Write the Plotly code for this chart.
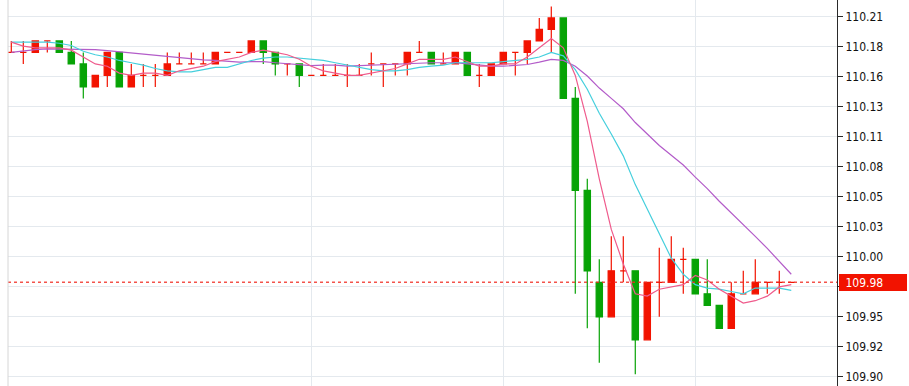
import plotly.graph_objects as go

# ---- data ----
opens = [110.18, 110.18, 110.18, 110.19, 110.19, 110.18, 110.17, 110.15, 110.16, 110.18,
         110.15, 110.16, 110.16, 110.16, 110.17, 110.17, 110.17, 110.17, 110.18, 110.18,
         110.18, 110.19, 110.18, 110.17, 110.17, 110.16, 110.16, 110.16, 110.16, 110.16,
         110.17, 110.17, 110.17, 110.17, 110.18, 110.18, 110.17, 110.17, 110.18, 110.16,
         110.16, 110.17, 110.18, 110.18, 110.19, 110.20, 110.21, 110.14, 110.06, 109.98,
         109.95, 109.99, 109.99, 109.93, 109.98, 109.98, 110.00, 110.00, 109.97, 109.96,
         109.94, 109.97, 109.97, 109.98, 109.98, 109.98]
highs = [110.19, 110.19, 110.19, 110.19, 110.19, 110.19, 110.18, 110.16, 110.18, 110.18,
         110.17, 110.17, 110.17, 110.18, 110.18, 110.18, 110.18, 110.18, 110.18, 110.18,
         110.19, 110.19, 110.18, 110.17, 110.17, 110.16, 110.17, 110.17, 110.17, 110.17,
         110.18, 110.17, 110.17, 110.18, 110.19, 110.18, 110.18, 110.18, 110.18, 110.17,
         110.17, 110.18, 110.18, 110.19, 110.21, 110.22, 110.21, 110.15, 110.07, 110.00,
         110.02, 110.02, 109.99, 109.98, 110.01, 110.02, 110.01, 110.00, 110.00, 109.96,
         109.98, 109.99, 110.00, 109.98, 109.99, 109.98]
lows = [110.18, 110.17, 110.18, 110.18, 110.18, 110.17, 110.14, 110.15, 110.15, 110.15,
        110.15, 110.15, 110.15, 110.16, 110.17, 110.17, 110.17, 110.17, 110.18, 110.18,
        110.18, 110.17, 110.16, 110.16, 110.15, 110.16, 110.16, 110.16, 110.15, 110.16,
        110.16, 110.15, 110.16, 110.16, 110.18, 110.17, 110.17, 110.17, 110.16, 110.15,
        110.16, 110.17, 110.16, 110.17, 110.19, 110.18, 110.14, 109.97, 109.94, 109.91,
        109.95, 109.98, 109.90, 109.93, 109.95, 109.98, 109.97, 109.97, 109.96, 109.94,
        109.94, 109.97, 109.97, 109.97, 109.97, 109.98]
closes = [110.18, 110.18, 110.19, 110.19, 110.18, 110.17, 110.15, 110.16, 110.18, 110.15,
          110.16, 110.16, 110.16, 110.17, 110.17, 110.17, 110.17, 110.18, 110.18, 110.18,
          110.19, 110.18, 110.17, 110.17, 110.16, 110.16, 110.16, 110.16, 110.16, 110.16,
          110.17, 110.17, 110.17, 110.18, 110.18, 110.17, 110.17, 110.18, 110.16, 110.16,
          110.17, 110.18, 110.18, 110.19, 110.20, 110.21, 110.14, 110.06, 109.99, 109.95,
          109.99, 109.99, 109.93, 109.98, 109.98, 110.00, 110.00, 109.97, 109.96, 109.94,
          109.97, 109.97, 109.98, 109.98, 109.98, 109.98]

ma5 = [110.189, 110.1855, 110.184, 110.184, 110.184, 110.182, 110.176, 110.170, 110.168, 110.162,
       110.160, 110.162, 110.162, 110.160, 110.164, 110.166, 110.168, 110.172, 110.174, 110.176,
       110.180, 110.182, 110.180, 110.178, 110.174, 110.168, 110.164, 110.162, 110.160, 110.160,
       110.162, 110.164, 110.166, 110.170, 110.174, 110.174, 110.174, 110.176, 110.172, 110.168,
       110.168, 110.170, 110.170, 110.176, 110.184, 110.192, 110.184, 110.160, 110.120, 110.070,
       110.026, 109.996, 109.970, 109.968, 109.974, 109.976, 109.978, 109.986, 109.982, 109.974,
       109.968, 109.962, 109.964, 109.968, 109.976, 109.978]
ma10 = [110.189, 110.189, 110.189, 110.189, 110.188, 110.186, 110.181, 110.178, 110.176, 110.173,
        110.171, 110.169, 110.166, 110.164, 110.163, 110.163, 110.165, 110.167, 110.167, 110.170,
        110.173, 110.175, 110.176, 110.176, 110.175, 110.174, 110.173, 110.171, 110.169, 110.167,
        110.165, 110.164, 110.164, 110.165, 110.167, 110.168, 110.169, 110.171, 110.171, 110.171,
        110.171, 110.172, 110.173, 110.174, 110.176, 110.180, 110.177, 110.165, 110.148, 110.127,
        110.109, 110.090, 110.065, 110.044, 110.022, 110.001, 109.987, 109.978, 109.975, 109.974,
        109.972, 109.970, 109.975, 109.975, 109.975, 109.973]
ma20 = [110.180, 110.1815, 110.1825, 110.183, 110.183, 110.183, 110.183, 110.1825, 110.1815, 110.1805,
        110.1795, 110.1785, 110.1775, 110.176, 110.175, 110.174, 110.1735, 110.173, 110.172, 110.1715,
        110.172, 110.172, 110.171, 110.170, 110.169, 110.1685, 110.169, 110.169, 110.168, 110.1685,
        110.169, 110.1695, 110.170, 110.1705, 110.171, 110.171, 110.171, 110.171, 110.170, 110.169,
        110.168, 110.168, 110.1685, 110.1695, 110.1715, 110.174, 110.173, 110.168, 110.1595, 110.149,
        110.140, 110.131, 110.119, 110.109, 110.099, 110.0905, 110.082, 110.0715, 110.0615, 110.0505,
        110.0405, 110.030, 110.020, 110.0095, 109.9985, 109.987]

y_tick_vals = [110.2111, 110.1850, 110.1589, 110.1328, 110.1067, 110.0806, 110.0545,
               110.0284, 110.0023, 109.9762, 109.9501, 109.9240, 109.8979]
y_tick_text = ['110.21', '110.18', '110.16', '110.13', '110.11', '110.08', '110.05',
               '110.03', '110.00', '109.98', '109.95', '109.92', '109.90']
x_grid_idx = [25, 41, 57]
y_range = [109.8898, 110.2256]
x_range = [-0.275, 68.81]

RED = '#f21300'
GREEN = '#07a306'
PINK = '#ef5b8c'
CYAN = '#45cfdd'
PURPLE = '#b35cc9'
GRID = '#e4e9ee'
FONT = 'DejaVu Sans Condensed, Liberation Sans, Arial, sans-serif'

x = list(range(len(closes)))
up = [i for i in x if closes[i] >= opens[i]]
dn = [i for i in x if closes[i] < opens[i]]

def sub(arr, idx):
    return [arr[i] for i in idx]

fig = go.Figure()
for idx, col in ((up, RED), (dn, GREEN)):
    fig.add_trace(go.Candlestick(
        x=idx, open=sub(opens, idx), high=sub(highs, idx), low=sub(lows, idx), close=sub(closes, idx),
        increasing=dict(line=dict(color=col, width=1.2), fillcolor=col),
        decreasing=dict(line=dict(color=col, width=1.2), fillcolor=col),
        whiskerwidth=0, showlegend=False, hoverinfo='skip'))

for vals, col in ((ma20, PURPLE), (ma10, CYAN), (ma5, PINK)):
    fig.add_trace(go.Scatter(x=x, y=vals, mode='lines', line=dict(color=col, width=1.2),
                             showlegend=False, hoverinfo='skip'))

last_price = closes[-1]
fig.add_shape(type='line', xref='paper', x0=0, x1=1, yref='y', y0=last_price, y1=last_price,
              line=dict(color='rgba(240,40,30,0.8)', width=1.5, dash='dot'))
fig.add_shape(type='line', xref='paper', x0=0, x1=0, yref='paper', y0=0, y1=1,
              line=dict(color='#d6d6d6', width=1))
fig.add_annotation(xref='paper', x=1, xanchor='left', xshift=2, yref='y', y=last_price,
                   text='&nbsp;' + f'{last_price:.2f}', showarrow=False, bgcolor=RED,
                   bordercolor=RED, borderwidth=1, borderpad=2, width=62, height=11,
                   align='left', font=dict(color='white', size=12, family=FONT))

fig.update_layout(
    width=909, height=386,
    margin=dict(l=8, r=72, t=0, b=0),
    paper_bgcolor='white', plot_bgcolor='white',
    boxgap=0.25, showlegend=False,
    font=dict(family=FONT, size=12, color='#111'),
    xaxis=dict(range=x_range, tickvals=x_grid_idx, showticklabels=False, ticks='',
               showgrid=True, gridcolor=GRID, gridwidth=1, zeroline=False,
               showline=False, rangeslider=dict(visible=False), fixedrange=True),
    yaxis=dict(range=y_range, side='right', tickvals=y_tick_vals, ticktext=y_tick_text,
               showgrid=True, gridcolor=GRID, gridwidth=1, zeroline=False,
               showline=True, linecolor='#2a2a2a', linewidth=1,
               ticks='outside', ticklen=5, tickcolor='#2a2a2a', automargin=False,
               tickfont=dict(family=FONT, size=12, color='#111'), fixedrange=True),
)

fig.write_html('out.html', config={'displayModeBar': False})
